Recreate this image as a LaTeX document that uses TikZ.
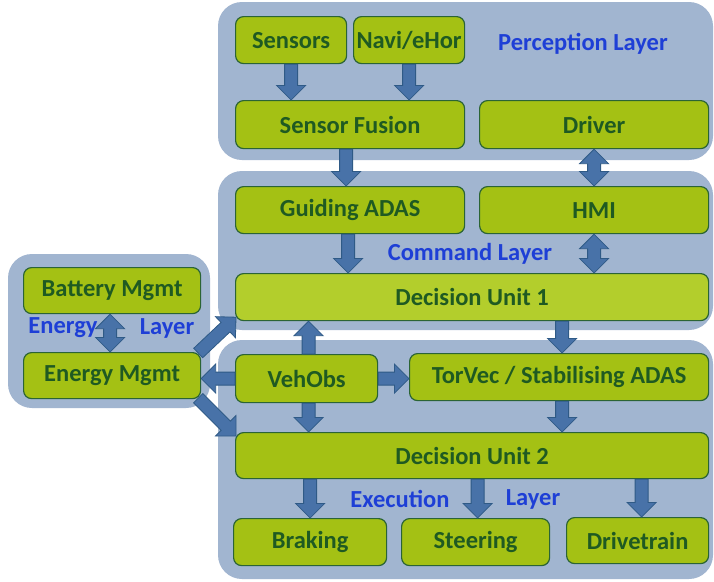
\documentclass[tikz,border=0pt]{standalone}
\usepackage{fontspec}
\setmainfont{Carlito}
\usetikzlibrary{calc}
\definecolor{panelblue}{HTML}{A1B5D0}
\definecolor{boxgreen}{HTML}{A4C114}
\definecolor{boxlight}{HTML}{B3CE2C}
\definecolor{boxedge}{HTML}{2B6435}
\definecolor{txtgreen}{HTML}{1F5A22}
\definecolor{layerblue}{HTML}{1E3FD6}
\definecolor{arrowfill}{HTML}{4872A8}
\definecolor{arrowedge}{HTML}{2F5A86}
\newcommand\sw{6.5pt}
\newcommand\hw{14.5pt}
\newcommand\hl{14.5pt}
\tikzset{
  panel/.style={fill=panelblue, draw=none, rounded corners=24pt},
  box/.style={draw=boxedge, line width=1.2pt, fill=boxgreen, rounded corners=8pt,
    text=txtgreen, font=\fontsize{24.5}{28}\selectfont\bfseries, inner sep=0pt, anchor=north west},
  layer/.style={text=layerblue, font=\fontsize{24.5}{28}\selectfont\bfseries, inner sep=0pt},
  blockarrow/.style={fill=arrowfill, draw=arrowedge, line width=0.8pt, line join=miter}
}
\newcommand\barrow[2]{%
  \path[blockarrow] let \p1=(#1), \p2=(#2), \n1={atan2(\y2-\y1,\x2-\x1)} in
    ($(\p1)+(\n1-90:\sw)$) --
    ($(\p2)+(\n1+180:\hl)+(\n1-90:\sw)$) --
    ($(\p2)+(\n1+180:\hl)+(\n1-90:\hw)$) --
    (\p2) --
    ($(\p2)+(\n1+180:\hl)+(\n1+90:\hw)$) --
    ($(\p2)+(\n1+180:\hl)+(\n1+90:\sw)$) --
    ($(\p1)+(\n1+90:\sw)$) -- cycle;}
\newcommand\dbarrow[2]{%
  \path[blockarrow] let \p1=(#1), \p2=(#2), \n1={atan2(\y2-\y1,\x2-\x1)} in
    (\p1) --
    ($(\p1)+(\n1:\hl)+(\n1-90:\hw)$) --
    ($(\p1)+(\n1:\hl)+(\n1-90:\sw)$) --
    ($(\p2)+(\n1+180:\hl)+(\n1-90:\sw)$) --
    ($(\p2)+(\n1+180:\hl)+(\n1-90:\hw)$) --
    (\p2) --
    ($(\p2)+(\n1+180:\hl)+(\n1+90:\hw)$) --
    ($(\p2)+(\n1+180:\hl)+(\n1+90:\sw)$) --
    ($(\p1)+(\n1:\hl)+(\n1+90:\sw)$) --
    ($(\p1)+(\n1:\hl)+(\n1+90:\hw)$) -- cycle;}
\begin{document}
\begin{tikzpicture}[x=1pt, y=-1pt]
\useasboundingbox (0,0) rectangle (714,581);
\fill[white] (0,0) rectangle (714,581);
% panels
\path[panel] (218,2) rectangle (713,160);
\path[panel] (218,171) rectangle (713,330);
\path[panel] (218,340) rectangle (713,579);
\path[panel] (8,254) rectangle (210,408);
% layer labels
\node[layer] (lperc) at (583,44) {Perception Layer};
\node[layer] (lcmd) at (470,254) {Command Layer};
\node[layer] (lexec) at (400,499) {Execution};
\node[layer] (lexec2) at (533,499) {Layer};
\node[layer] (lener) at (63,328) {Energy};
\node[layer] (lener2) at (167,328) {Layer};
% boxes
\node[box, minimum width=111pt, minimum height=47pt] (sens) at (235,16) {Sensors};
\node[box, minimum width=111pt, minimum height=47pt] (navi) at (353,16) {Navi/eHor};
\node[box, minimum width=229pt, minimum height=48pt] (fus) at (235,100) {Sensor Fusion};
\node[box, minimum width=229pt, minimum height=48pt] (drv) at (479,100) {Driver};
\node[box, minimum width=229pt, minimum height=47pt] (gadas) at (235,186) {Guiding ADAS};
\node[box, minimum width=229pt, minimum height=47pt] (hmi) at (479,186) {HMI};
\node[box, fill=boxlight, minimum width=473pt, minimum height=47pt] (du1) at (235,273) {Decision Unit 1};
\node[box, minimum width=142pt, minimum height=48pt] (veh) at (235,354) {VehObs};
\node[box, minimum width=299pt, minimum height=47pt] (tor) at (409,353) {TorVec / Stabilising ADAS};
\node[box, minimum width=473pt, minimum height=46pt] (du2) at (235,432) {Decision Unit 2};
\node[box, minimum width=153pt, minimum height=47pt] (brak) at (233,518) {Braking};
\node[box, minimum width=148pt, minimum height=47pt] (steer) at (401,518) {Steering};
\node[box, minimum width=142pt, minimum height=46pt] (dtr) at (566,517) {Drivetrain};
\node[box, minimum width=177pt, minimum height=46pt] (batt) at (23,267) {Battery Mgmt};
\node[box, minimum width=177pt, minimum height=46pt] (emg) at (23,352) {Energy Mgmt};
% arrows
\barrow{sens.south}{sens.south |- fus.north}
\barrow{navi.south}{navi.south |- fus.north}
\barrow{$(fus.south)+(-4,0)$}{$(fus.south |- gadas.north)+(-4,0)$}
\dbarrow{drv.south}{drv.south |- hmi.north}
\barrow{$(gadas.south)+(-2,0)$}{$(gadas.south |- du1.north)+(-2,0)$}
\dbarrow{hmi.south}{hmi.south |- du1.north}
\barrow{$(veh.north)+(2,0)$}{$(veh.north |- du1.south)+(2,0)$}
\barrow{$(tor.north |- du1.south)+(3,0)$}{$(tor.north)+(3,0)$}
\barrow{veh.east}{veh.east -| tor.west}
\barrow{$(veh.south)+(2,0)$}{$(veh.south |- du2.north)+(2,0)$}
\barrow{$(tor.south)+(3,0)$}{$(tor.south |- du2.north)+(3,0)$}
\barrow{brak.north |- du2.south}{brak.north}
\barrow{$(steer.north |- du2.south)+(2,0)$}{$(steer.north)+(2,0)$}
\barrow{$(dtr.north |- du2.south)+(4,0)$}{$(dtr.north)+(4,0)$}
\dbarrow{$(batt.south)+(-2,0)$}{$(batt.south |- emg.north)+(-2,0)$}
\barrow{$(emg.north east)+(-3,1)$}{$(du1.south west)+(1,-4)$}
\barrow{veh.west}{veh.west -| emg.east}
\barrow{$(emg.south east)+(-3,-1)$}{$(du2.north west)+(1,4)$}
\end{tikzpicture}
\end{document}
